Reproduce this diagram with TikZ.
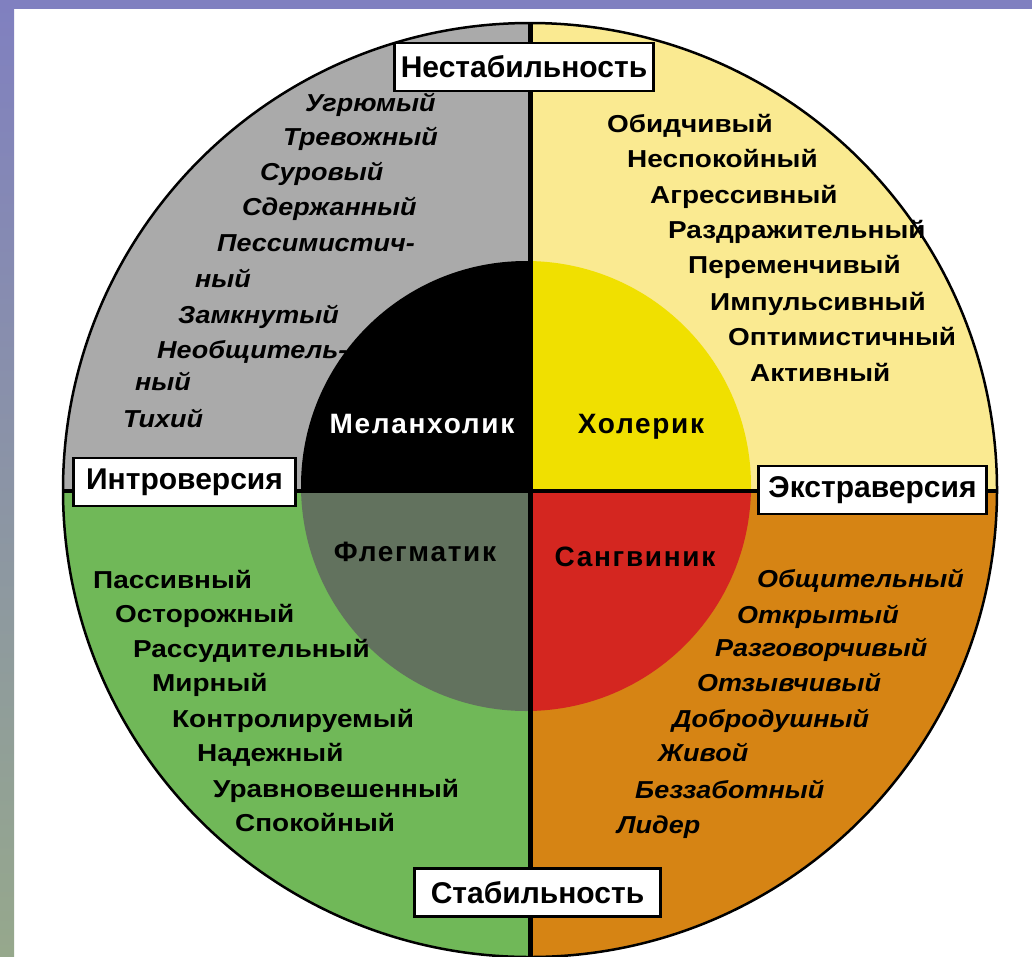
\documentclass[tikz,border=0pt]{standalone}
\usepackage{fontspec}
\setmainfont{Liberation Sans}
\newfontfamily\uprfont[FakeStretch=1.14]{Liberation Sans}
\newfontfamily\slfont[FakeStretch=1.10]{Liberation Sans}
\newfontfamily\typefont[LetterSpace=6]{Liberation Sans}
\definecolor{stripblue}{RGB}{128,128,192}
\definecolor{stripgreen}{RGB}{150,168,140}
\definecolor{grayQ}{RGB}{170,170,170}
\definecolor{yellowQ}{RGB}{250,234,145}
\definecolor{yellowIn}{RGB}{240,224,0}
\definecolor{greenQ}{RGB}{112,184,88}
\definecolor{greenIn}{RGB}{98,114,94}
\definecolor{orangeQ}{RGB}{214,132,20}
\definecolor{redIn}{RGB}{212,38,32}
\tikzset{
  axisbox/.style={draw=black, line width=2.5pt, fill=white, inner sep=0pt,
    minimum height=48pt, font=\bfseries\fontsize{30}{34}\selectfont},
  itword/.style={anchor=west, inner sep=0pt, text height=17.5pt, text depth=0pt,
    font=\slfont\bfseries\itshape\fontsize{24.5}{28}\selectfont},
  upword/.style={anchor=west, inner sep=0pt, text height=17.5pt, text depth=0pt,
    font=\uprfont\bfseries\fontsize{24.5}{28}\selectfont},
  typelabel/.style={inner sep=0pt, text height=20pt, text depth=0pt,
    font=\typefont\bfseries\fontsize{28}{32}\selectfont},
  divider/.style={line width=5pt, draw=black}
}
\begin{document}
\begin{tikzpicture}[x=1pt,y=-1pt]
\useasboundingbox (0,0) rectangle (1032,956);
\fill[white] (0,0) rectangle (1032,956);
% frame strips
\fill[stripblue] (0,0) rectangle (1032,9);
\shade[top color=stripblue, bottom color=stripgreen] (0,0) rectangle (14,956);
% centres
\coordinate (C) at (530,490);
\coordinate (Ci) at (526,486);
% outer quadrants
\begin{scope}
  \clip (C) circle[radius=467];
  \fill[grayQ] (0,0) rectangle (530,491);
  \fill[yellowQ] (530,0) rectangle (1032,491);
  \fill[greenQ] (0,491) rectangle (530,960);
  \fill[orangeQ] (530,491) rectangle (1032,960);
\end{scope}
% inner quadrants
\begin{scope}
  \clip (Ci) circle[radius=225];
  \fill[black] (0,0) rectangle (530,491);
  \fill[yellowIn] (530,0) rectangle (1032,491);
  \fill[greenIn] (0,491) rectangle (530,960);
  \fill[redIn] (530,491) rectangle (1032,960);
\end{scope}
\draw[line width=2.5pt] (C) circle[radius=467];
% dividers
\coordinate (vtop) at (530,23);
\coordinate (vbot) at (530,960);
\coordinate (hl) at (64,491);
\coordinate (hr) at (997,491);
\draw[divider] (vtop) -- (vbot);
\draw[divider, line width=4pt] (hl) -- (hr);
% axis boxes
\node[axisbox, minimum width=259pt] (nestab) at (524,67) {Нестабильность};
\node[axisbox, minimum width=222pt] (intro) at (184.5,482) {Интроверсия};
\node[axisbox, minimum width=228pt] (extra) at (872.5,490) {Экстраверсия};
\node[axisbox, minimum width=246pt] (stab) at (537.5,892.5) {Стабильность};
% temperament labels
\node[typelabel, text=white] (mel) at (422,423) {Меланхолик};
\node[typelabel] (chol) at (641,423) {Холерик};
\node[typelabel] (phleg) at (415,551) {Флегматик};
\node[typelabel] (sang) at (635,556) {Сангвиник};
% melancholic traits
\node[itword] (m1) at (305,103) {Угрюмый};
\node[itword] (m2) at (283,137) {Тревожный};
\node[itword] (m3) at (260,172) {Суровый};
\node[itword] (m4) at (242,207) {Сдержанный};
\node[itword] (m5) at (217,243) {Пессимистич-};
\node[itword] (m6) at (195,279) {ный};
\node[itword] (m7) at (178,315) {Замкнутый};
\node[itword] (m8) at (157,350) {Необщитель-};
\node[itword] (m9) at (135,382) {ный};
\node[itword] (m10) at (123,419) {Тихий};
% choleric traits
\node[upword] (c1) at (607,124) {Обидчивый};
\node[upword] (c2) at (627,159) {Неспокойный};
\node[upword] (c3) at (650,195) {Агрессивный};
\node[upword] (c4) at (668,230) {Раздражительный};
\node[upword] (c5) at (688,265) {Переменчивый};
\node[upword] (c6) at (710,302) {Импульсивный};
\node[upword] (c7) at (728,337) {Оптимистичный};
\node[upword] (c8) at (750,373) {Активный};
% phlegmatic traits
\node[upword] (p1) at (93,580) {Пассивный};
\node[upword] (p2) at (115,614) {Осторожный};
\node[upword] (p3) at (133,649) {Рассудительный};
\node[upword] (p4) at (152,683) {Мирный};
\node[upword] (p5) at (172,719) {Контролируемый};
\node[upword] (p6) at (197,753) {Надежный};
\node[upword] (p7) at (213,789) {Уравновешенный};
\node[upword] (p8) at (235,823) {Спокойный};
% sanguine traits
\node[itword] (s1) at (757,579) {Общительный};
\node[itword] (s2) at (737,615) {Открытый};
\node[itword] (s3) at (715,648) {Разговорчивый};
\node[itword] (s4) at (697,683) {Отзывчивый};
\node[itword] (s5) at (672,719) {Добродушный};
\node[itword] (s6) at (658,753) {Живой};
\node[itword] (s7) at (635,790) {Беззаботный};
\node[itword] (s8) at (617,825) {Лидер};
\end{tikzpicture}
\end{document}
